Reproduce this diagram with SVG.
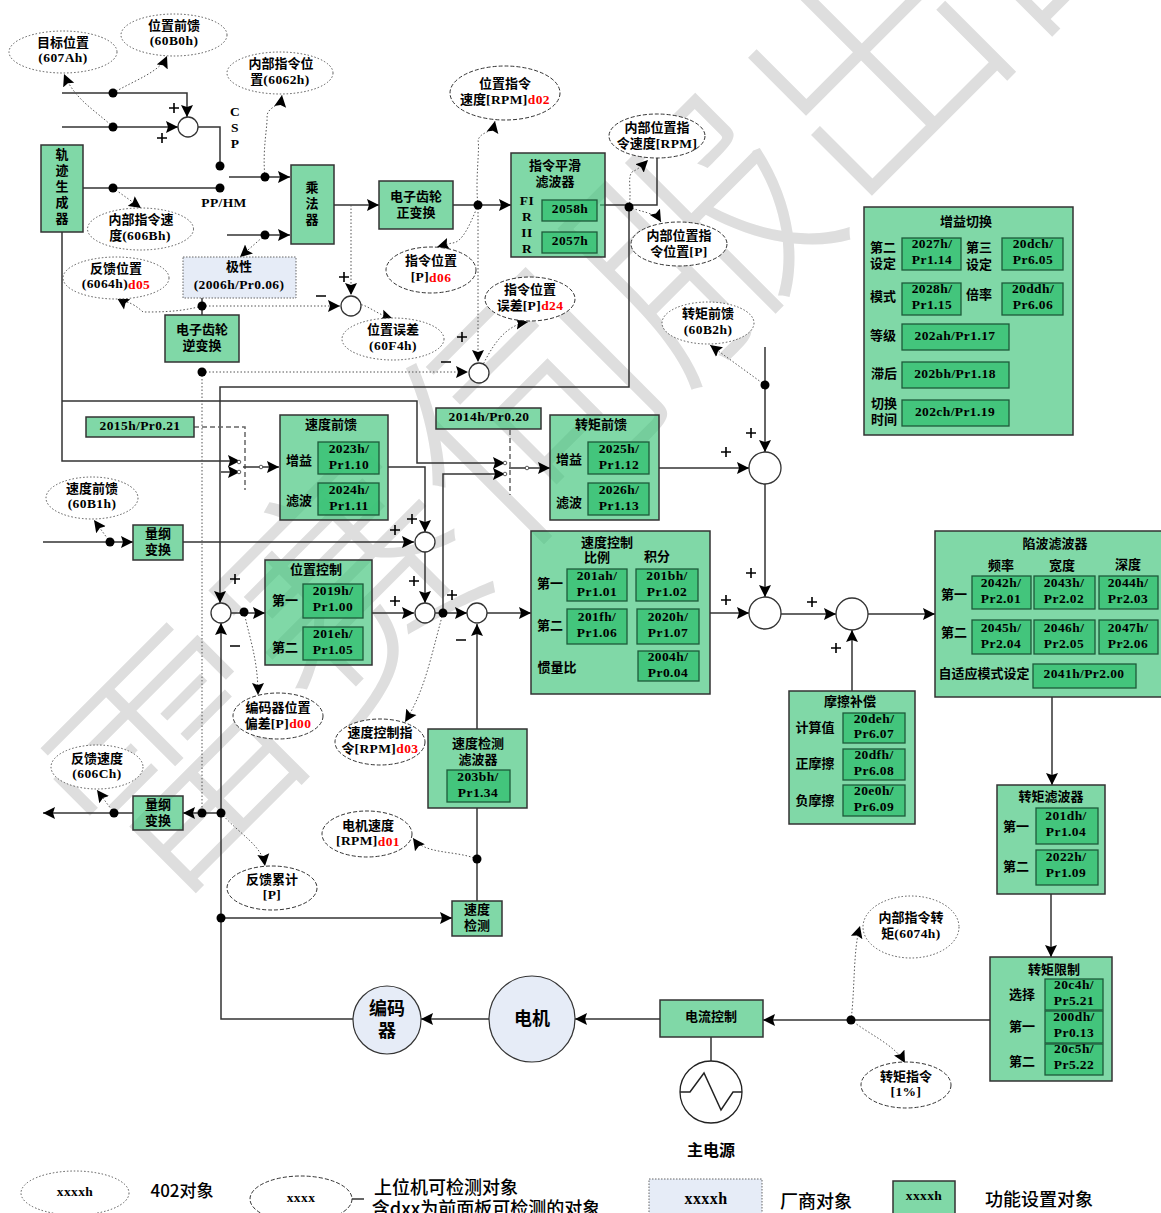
<svg xmlns="http://www.w3.org/2000/svg" width="1161" height="1213" viewBox="0 0 1161 1213">
<style>
text{font-family:"Noto Sans CJK SC","Liberation Sans",sans-serif;font-size:13px;font-weight:700;text-anchor:middle;dominant-baseline:central;fill:#000}
text:not(.wm){transform:translateY(-1.5px)}
text.m,tspan.m{font-family:"Liberation Serif","Noto Sans CJK SC",serif;font-size:13.5px;letter-spacing:.4px}
tspan.r{fill:#f00}
text.b{font-size:18px;font-weight:500}
.g{fill:#3cc378;fill-opacity:.65;stroke:#333;stroke-width:1.5}
.i{fill:#3cc378;fill-opacity:.9;stroke:#1d5a3a;stroke-width:1.3}
.v{fill:#e6ecf7;stroke:#666;stroke-width:1;stroke-dasharray:1.5 1.5}
.e1{fill:#fff;stroke:#555;stroke-width:1;stroke-dasharray:1.5 2}
.e2{fill:#fff;stroke:#333;stroke-width:1;stroke-dasharray:4 2}
.s{fill:#fff;stroke:#333;stroke-width:1.3}
.l{fill:none;stroke:#333;stroke-width:1.5}
.a{fill:none;stroke:#333;stroke-width:1.5;marker-end:url(#ar)}
.d{fill:none;stroke:#555;stroke-width:1;stroke-dasharray:1.5 2}
.da{fill:none;stroke:#555;stroke-width:1;stroke-dasharray:1.5 2;marker-end:url(#ar)}
.sw{fill:none;stroke:#666;stroke-width:1.5;stroke-dasharray:5 3}
.p{fill:none;stroke:#000;stroke-width:1.6}
circle.j{fill:#000;stroke:none}
circle.o{fill:#fff;stroke:#333;stroke-width:.8}
.wm{font-size:246px;font-weight:300;fill:#dedede}
</style>
<defs>
<marker id="ar" markerUnits="userSpaceOnUse" markerWidth="13" markerHeight="13" refX="12" refY="6.5" orient="auto"><path d="M0,0.5L12,6.5L0,12.5L2,6.5z" fill="#000"/></marker>
</defs>
<rect width="1161" height="1213" fill="#fff"/>
<text class="wm" id="watermark" transform="translate(600,312) rotate(-45)">雷赛伺服出品</text>

<g id="connectors">
<path class="a" d="M62,93H187V117"/>
<path class="a" d="M62,127H178"/>
<path class="l" d="M198,127H220V166"/>
<path class="l" d="M83,188H220"/>
<path class="a" d="M229,177H290"/>
<path class="a" d="M227,235H290"/>
<path class="a" d="M334,205H379"/>
<path class="a" d="M453,205H511"/>
<path class="l" d="M600,205H657V158"/>
<path class="a" d="M629,207V387H220V603"/>
<path class="a" d="M62,232V461H240"/>
<path class="a" d="M62,401H417V463H505"/>
<path class="a" d="M221,472H240"/>
<path class="a" d="M443,613V474H505"/>
<path class="sw" d="M194,427H245V490"/>
<path class="sw" d="M510,430V495"/>
<path class="a" d="M243,467H279"/>
<path class="a" d="M509,468H550"/>
<path class="a" d="M388,467H425V532"/>
<path class="a" d="M183,542H414"/>
<path class="a" d="M425,552V603"/>
<path class="a" d="M372,613H414"/>
<path class="a" d="M435,613H467"/>
<path class="a" d="M487,613H531"/>
<path class="a" d="M477,729V624"/>
<path class="a" d="M659,468H749"/>
<path class="a" d="M765,347V452"/>
<path class="a" d="M765,484V597"/>
<path class="a" d="M710,613H749"/>
<path class="a" d="M781,614H836"/>
<path class="a" d="M852,691V630"/>
<path class="a" d="M868,614H935"/>
<path class="a" d="M1052,697V785"/>
<path class="a" d="M1051,894V957"/>
<path class="a" d="M990,1020H763"/>
<path class="a" d="M660,1019H575"/>
<path class="a" d="M489,1019H421"/>
<path class="a" d="M353,1019H221V623"/>
<path class="a" d="M221,918H452"/>
<path class="a" d="M221,813H183"/>
<path class="a" d="M133,813H43"/>
<path class="l" d="M477,808V901"/>
<path class="a" d="M231,613H265"/>
<path class="a" d="M43,542H133"/>
<path class="l" d="M202,298V315"/>
<path class="l" d="M711,1037V1061"/>
<path class="l" d="M351,1199H364"/>
<path class="da" d="M351,205V295"/>
<path class="da" d="M202,306H340"/>
<path class="da" d="M202,372H468"/>
<path class="d" d="M202,372V813"/>
<path class="da" d="M478,205V362"/>
<path class="da" d="M113,127C95,110 75,100 64,74"/>
<path class="da" d="M113,93C135,80 160,72 167,56"/>
<path class="da" d="M265,177C262,150 268,125 267,115C270,105 280,108 282,95"/>
<path class="da" d="M113,188L141,208"/>
<path class="da" d="M265,235L240,257"/>
<path class="da" d="M202,306C180,312 160,312 143,312C130,300 125,303 117,298"/>
<path class="da" d="M351,306C365,300 370,312 393,319"/>
<path class="da" d="M478,205C475,180 480,150 478,140C482,130 492,135 495,121"/>
<path class="da" d="M478,205C470,225 462,243 452,243L437,247"/>
<path class="da" d="M629,207C632,190 627,178 632,172C636,170 640,168 648,160"/>
<path class="da" d="M629,207C640,212 655,212 661,222"/>
<path class="da" d="M479,373C492,345 505,325 528,322"/>
<path class="da" d="M765,385L710,345"/>
<path class="da" d="M110,542L94,520"/>
<path class="da" d="M244,612C250,640 258,660 258,695"/>
<path class="da" d="M443,613C430,660 425,690 405,722"/>
<path class="da" d="M114,813L97,790"/>
<path class="da" d="M221,813C240,835 262,845 265,866"/>
<path class="da" d="M477,859C455,850 425,855 413,838"/>
<path class="da" d="M851,1020C855,990 853,950 860,926"/>
<path class="da" d="M851,1020C870,1035 895,1045 905,1063"/>
</g>

<g id="junctions">
<circle class="j" cx="113" cy="93" r="4.5"/><circle class="j" cx="113" cy="127" r="4.5"/><circle class="j" cx="220" cy="166" r="4.5"/><circle class="j" cx="220" cy="188" r="4.5"/><circle class="j" cx="113" cy="188" r="4.5"/><circle class="j" cx="265" cy="177" r="4.5"/><circle class="j" cx="265" cy="235" r="4.5"/><circle class="j" cx="478" cy="205" r="4.5"/><circle class="j" cx="629" cy="207" r="4.5"/><circle class="j" cx="202" cy="306" r="4.5"/><circle class="j" cx="202" cy="372" r="4.5"/><circle class="j" cx="765" cy="385" r="4.5"/><circle class="j" cx="110" cy="542" r="4.5"/><circle class="j" cx="244" cy="612" r="4.5"/><circle class="j" cx="443" cy="613" r="4.5"/><circle class="j" cx="221" cy="813" r="4.5"/><circle class="j" cx="202" cy="813" r="4.5"/><circle class="j" cx="114" cy="813" r="4.5"/><circle class="j" cx="221" cy="918" r="4.5"/><circle class="j" cx="477" cy="859" r="4.5"/><circle class="j" cx="851" cy="1020" r="4.5"/>
<circle class="o" cx="239" cy="462" r="1.8"/><circle class="o" cx="239" cy="472" r="1.8"/><circle class="o" cx="261" cy="467" r="1.8"/><circle class="o" cx="505" cy="463" r="1.8"/><circle class="o" cx="505" cy="474" r="1.8"/><circle class="o" cx="527" cy="468" r="1.8"/>
</g>

<g id="sums">
<circle class="s" cx="188" cy="127" r="10"/><circle class="s" cx="351" cy="306" r="10"/><circle class="s" cx="479" cy="373" r="10"/><circle class="s" cx="425" cy="542" r="10"/><circle class="s" cx="425" cy="613" r="10"/><circle class="s" cx="477" cy="613" r="10"/><circle class="s" cx="221" cy="613" r="10"/><circle class="s" cx="765" cy="468" r="16"/><circle class="s" cx="765" cy="613" r="16"/><circle class="s" cx="852" cy="614" r="16"/>
</g>

<g id="signs">
<path class="p" d="M169,108H179M174,103V113M157,138H167M162,133V143M339,277H349M344,272V282M457,337H467M462,332V342M230,579H240M235,574V584M390,530H400M395,525V535M407,519H417M412,514V524M409,581H419M414,576V586M390,601H400M395,596V606M447,595H457M452,590V600M721,452H731M726,447V457M746,433H756M751,428V438M746,573H756M751,568V578M721,600H731M726,595V605M807,602H817M812,597V607M831,648H841M836,643V653M316,296H326M441,362H451M230,646H240M456,640H466"/>
</g>

<text class="m" x="235" y="113">C</text><text class="m" x="235" y="129">S</text><text class="m" x="235" y="145">P</text>
<text class="m" x="224" y="204">PP/HM</text>

<g id="e-607A"><ellipse class="e1" cx="63" cy="52" rx="54" ry="21"/><text x="63" y="43">目标位置</text><text class="m" x="63" y="59">(607Ah)</text></g>
<g id="e-60B0"><ellipse class="e1" cx="174" cy="35" rx="53" ry="21"/><text x="174" y="26">位置前馈</text><text class="m" x="174" y="42">(60B0h)</text></g>
<g id="e-6062"><ellipse class="e1" cx="280" cy="73" rx="53" ry="21"/><text x="281" y="64">内部指令位</text><text x="280" y="80">置<tspan class="m">(6062h)</tspan></text></g>
<g id="e-606B"><ellipse class="e1" cx="140.500" cy="229" rx="53" ry="21"/><text x="141" y="220">内部指令速</text><text x="140" y="236">度<tspan class="m">(606Bh)</tspan></text></g>
<g id="e-6064"><ellipse class="e1" cx="116" cy="278" rx="53" ry="21"/><text x="116" y="269">反馈位置</text><text class="m" x="116" y="285">(6064h)<tspan class="r">d05</tspan></text></g>
<g id="e-60F4"><ellipse class="e1" cx="393" cy="339" rx="51" ry="21"/><text x="393" y="330">位置误差</text><text class="m" x="393" y="347">(60F4h)</text></g>
<g id="e-d02"><ellipse class="e2" cx="505" cy="93" rx="55" ry="27"/><text x="505" y="84">位置指令</text><text x="505" y="100">速度<tspan class="m">[RPM]</tspan><tspan class="m r">d02</tspan></text></g>
<g id="e-ivel"><ellipse class="e2" cx="657" cy="136" rx="48" ry="22"/><text x="657" y="128">内部位置指</text><text x="657" y="144">令速度<tspan class="m">[RPM]</tspan></text></g>
<g id="e-ipos"><ellipse class="e2" cx="679" cy="244" rx="48" ry="22"/><text x="679" y="236">内部位置指</text><text x="679" y="252">令位置<tspan class="m">[P]</tspan></text></g>
<g id="e-d06"><ellipse class="e2" cx="431" cy="270" rx="45" ry="23"/><text x="431" y="261">指令位置</text><text class="m" x="431" y="278">[P]<tspan class="r">d06</tspan></text></g>
<g id="e-d24"><ellipse class="e2" cx="530" cy="299" rx="45" ry="22"/><text x="530" y="290">指令位置</text><text x="530" y="306">误差<tspan class="m">[P]</tspan><tspan class="m r">d24</tspan></text></g>
<g id="e-60B2"><ellipse class="e1" cx="708" cy="323" rx="46" ry="21"/><text x="708" y="314">转矩前馈</text><text class="m" x="708" y="331">(60B2h)</text></g>
<g id="e-60B1"><ellipse class="e1" cx="92" cy="498" rx="46" ry="21"/><text x="92" y="489">速度前馈</text><text class="m" x="92" y="505">(60B1h)</text></g>
<g id="e-d00"><ellipse class="e2" cx="278" cy="716" rx="45" ry="23"/><text x="278" y="708">编码器位置</text><text x="278" y="724">偏差<tspan class="m">[P]</tspan><tspan class="m r">d00</tspan></text></g>
<g id="e-d03"><ellipse class="e2" cx="380" cy="742" rx="45" ry="23"/><text x="380" y="733">速度控制指</text><text x="380" y="749">令<tspan class="m">[RPM]</tspan><tspan class="m r">d03</tspan></text></g>
<g id="e-606C"><ellipse class="e1" cx="97" cy="767" rx="46" ry="22"/><text x="97" y="759">反馈速度</text><text class="m" x="97" y="775">(606Ch)</text></g>
<g id="e-d01"><ellipse class="e2" cx="367" cy="834" rx="45" ry="23"/><text x="368" y="826">电机速度</text><text class="m" x="368" y="842">[RPM]<tspan class="r">d01</tspan></text></g>
<g id="e-fbsum"><ellipse class="e2" cx="272" cy="888" rx="45" ry="22"/><text x="272" y="880">反馈累计</text><text class="m" x="272" y="896">[P]</text></g>
<g id="e-6074"><ellipse class="e1" cx="911" cy="927" rx="48" ry="31"/><text x="911" y="918">内部指令转</text><text x="911" y="934">矩<tspan class="m">(6074h)</tspan></text></g>
<g id="e-1pct"><ellipse class="e2" cx="906" cy="1085" rx="45" ry="23"/><text x="906" y="1077">转矩指令</text><text class="m" x="906" y="1093">[1%]</text></g>

<g id="n-traj"><rect class="g" x="41" y="145" width="42" height="87"/><text x="62" y="155">轨</text><text x="62" y="171">迹</text><text x="62" y="187">生</text><text x="62" y="203">成</text><text x="62" y="219">器</text></g>
<g id="n-mul"><rect class="g" x="291" y="165" width="43" height="79"/><text x="312" y="188">乘</text><text x="312" y="204">法</text><text x="312" y="220">器</text></g>
<g id="n-gear"><rect class="g" x="379" y="181" width="74" height="48"/><text x="416" y="197">电子齿轮</text><text x="416" y="213">正变换</text></g>
<g id="n-pol"><rect class="v" x="183" y="257" width="113" height="41"/><text x="239" y="267">极性</text><text class="m" x="239" y="286">(2006h/Pr0.06)</text></g>
<g id="n-igear"><rect class="g" x="165" y="315" width="74" height="47"/><text x="202" y="330">电子齿轮</text><text x="202" y="346">逆变换</text></g>
<g id="n-smooth"><rect class="g" x="511" y="153" width="94" height="104"/><text x="555" y="166">指令平滑</text><text x="555" y="182">滤波器</text><text class="m" x="527" y="202">FI</text><text class="m" x="527" y="218">R</text><text class="m" x="527" y="234">II</text><text class="m" x="527" y="250">R</text><rect class="i" x="542" y="200" width="55" height="21"/><text class="m" x="570" y="210">2058h</text><rect class="i" x="542" y="232" width="55" height="21"/><text class="m" x="570" y="242">2057h</text></g>
<g id="n-2015"><rect class="g" x="86" y="417" width="108" height="20"/><text class="m" x="140" y="427">2015h/Pr0.21</text></g>
<g id="n-2014"><rect class="g" x="436" y="408" width="105" height="21"/><text class="m" x="489" y="418">2014h/Pr0.20</text></g>
<g id="n-vff"><rect class="g" x="280" y="415" width="108" height="105"/><text x="331" y="425">速度前馈</text><text x="299" y="461">增益</text><text x="299" y="501">滤波</text><rect class="i" x="318" y="442" width="61" height="32"/><text class="m" x="349" y="450">2023h/</text><text class="m" x="349" y="466">Pr1.10</text><rect class="i" x="318" y="483" width="61" height="32"/><text class="m" x="349" y="491">2024h/</text><text class="m" x="349" y="507">Pr1.11</text></g>
<g id="n-tff"><rect class="g" x="550" y="415" width="109" height="105"/><text x="601" y="425">转矩前馈</text><text x="569" y="460">增益</text><text x="569" y="503">滤波</text><rect class="i" x="588" y="442" width="61" height="32"/><text class="m" x="619" y="450">2025h/</text><text class="m" x="619" y="466">Pr1.12</text><rect class="i" x="588" y="483" width="61" height="32"/><text class="m" x="619" y="491">2026h/</text><text class="m" x="619" y="507">Pr1.13</text></g>
<g id="n-dim1"><rect class="g" x="133" y="525" width="50" height="35"/><text x="158" y="534">量纲</text><text x="158" y="550">变换</text></g>
<g id="n-pos"><rect class="g" x="265" y="560" width="107" height="105"/><text x="316" y="570">位置控制</text><text x="285" y="601">第一</text><text x="285" y="648">第二</text><rect class="i" x="303" y="584" width="60" height="34"/><text class="m" x="333" y="592">2019h/</text><text class="m" x="333" y="608">Pr1.00</text><rect class="i" x="303" y="627" width="60" height="33"/><text class="m" x="333" y="635">201eh/</text><text class="m" x="333" y="651">Pr1.05</text></g>
<g id="n-vel"><rect class="g" x="531" y="531" width="179" height="163"/><text x="607" y="543">速度控制</text><text x="597" y="558">比例</text><text x="657" y="557">积分</text><text x="550" y="584">第一</text><text x="550" y="626">第二</text><text x="557" y="668">惯量比</text><rect class="i" x="567" y="569" width="60" height="32"/><text class="m" x="597" y="577">201ah/</text><text class="m" x="597" y="593">Pr1.01</text><rect class="i" x="636" y="569" width="62" height="32"/><text class="m" x="667" y="577">201bh/</text><text class="m" x="667" y="593">Pr1.02</text><rect class="i" x="567" y="609" width="60" height="35"/><text class="m" x="597" y="618">201fh/</text><text class="m" x="597" y="634">Pr1.06</text><rect class="i" x="637" y="609" width="62" height="35"/><text class="m" x="668" y="618">2020h/</text><text class="m" x="668" y="634">Pr1.07</text><rect class="i" x="638" y="651" width="61" height="30"/><text class="m" x="668" y="658">2004h/</text><text class="m" x="668" y="674">Pr0.04</text></g>
<g id="n-velfilt"><rect class="g" x="428" y="729" width="99" height="79"/><text x="478" y="744">速度检测</text><text x="478" y="760">滤波器</text><rect class="i" x="447" y="770" width="63" height="32"/><text class="m" x="478" y="778">203bh/</text><text class="m" x="478" y="794">Pr1.34</text></g>
<g id="n-dim2"><rect class="g" x="133" y="796" width="50" height="34"/><text x="158" y="805">量纲</text><text x="158" y="821">变换</text></g>
<g id="n-veldet"><rect class="g" x="452" y="901" width="50" height="35"/><text x="477" y="910">速度</text><text x="477" y="926">检测</text></g>
<g id="n-enc"><circle cx="387" cy="1020" r="34" fill="#e6ecf7" stroke="#333" stroke-width="1.2"/><text x="387" y="1008" style="font-size:18px">编码</text><text x="387" y="1030" style="font-size:18px">器</text></g>
<g id="n-motor"><circle cx="532" cy="1019" r="43" fill="#e6ecf7" stroke="#333" stroke-width="1.2"/><text x="532" y="1018" style="font-size:18px">电机</text></g>
<g id="n-cur"><rect class="g" x="660" y="1000" width="103" height="37"/><text x="711" y="1017">电流控制</text></g>
<g id="n-mains"><ellipse cx="711" cy="1092" rx="31" ry="31" fill="#fff" stroke="#222" stroke-width="1.3"/><path class="l" d="M680,1092H690L704,1073L721,1110L733,1092H742" style="stroke:#222"/><text x="711" y="1150" style="font-size:16px">主电源</text></g>
<g id="n-gain"><rect class="g" x="864" y="207" width="209" height="228"/><text x="966" y="222">增益切换</text><text x="883" y="248">第二</text><text x="883" y="264">设定</text><text x="979" y="248">第三</text><text x="979" y="265">设定</text><text x="883" y="297">模式</text><text x="979" y="295">倍率</text><text x="883" y="336">等级</text><text x="884" y="374">滞后</text><text x="884" y="404">切换</text><text x="884" y="420">时间</text>
<rect class="i" x="902" y="238" width="59" height="32"/><text class="m" x="932" y="245">2027h/</text><text class="m" x="932" y="261">Pr1.14</text><rect class="i" x="1002" y="238" width="61" height="32"/><text class="m" x="1033" y="245">20dch/</text><text class="m" x="1033" y="261">Pr6.05</text><rect class="i" x="902" y="283" width="59" height="32"/><text class="m" x="932" y="290">2028h/</text><text class="m" x="932" y="306">Pr1.15</text><rect class="i" x="1002" y="283" width="61" height="32"/><text class="m" x="1033" y="290">20ddh/</text><text class="m" x="1033" y="306">Pr6.06</text><rect class="i" x="902" y="324" width="107" height="26"/><text class="m" x="955" y="337">202ah/Pr1.17</text><rect class="i" x="902" y="362" width="107" height="26"/><text class="m" x="955" y="375">202bh/Pr1.18</text><rect class="i" x="902" y="400" width="107" height="26"/><text class="m" x="955" y="413">202ch/Pr1.19</text></g>
<g id="n-notch"><rect class="g" x="935" y="531" width="227" height="166"/><text x="1055" y="544">陷波滤波器</text><text x="1001" y="566">频率</text><text x="1062" y="566">宽度</text><text x="1128" y="565">深度</text><text x="954" y="595">第一</text><text x="954" y="633">第二</text><text x="984" y="674">自适应模式设定</text>
<rect class="i" x="972" y="576" width="59" height="33"/><text class="m" x="1001" y="584">2042h/</text><text class="m" x="1001" y="600">Pr2.01</text><rect class="i" x="1034" y="576" width="61" height="33"/><text class="m" x="1064" y="584">2043h/</text><text class="m" x="1064" y="600">Pr2.02</text><rect class="i" x="1099" y="576" width="59" height="33"/><text class="m" x="1128" y="584">2044h/</text><text class="m" x="1128" y="600">Pr2.03</text><rect class="i" x="972" y="620" width="59" height="34"/><text class="m" x="1001" y="629">2045h/</text><text class="m" x="1001" y="645">Pr2.04</text><rect class="i" x="1034" y="620" width="61" height="34"/><text class="m" x="1064" y="629">2046h/</text><text class="m" x="1064" y="645">Pr2.05</text><rect class="i" x="1099" y="620" width="59" height="34"/><text class="m" x="1128" y="629">2047h/</text><text class="m" x="1128" y="645">Pr2.06</text><rect class="i" x="1033" y="664" width="103" height="24"/><text class="m" x="1084" y="675">2041h/Pr2.00</text></g>
<g id="n-fric"><rect class="g" x="789" y="691" width="126" height="133"/><text x="850" y="702">摩擦补偿</text><text x="815" y="728">计算值</text><text x="815" y="764">正摩擦</text><text x="815" y="801">负摩擦</text><rect class="i" x="843" y="713" width="62" height="30"/><text class="m" x="874" y="720">20deh/</text><text class="m" x="874" y="735">Pr6.07</text><rect class="i" x="843" y="749" width="62" height="31"/><text class="m" x="874" y="756">20dfh/</text><text class="m" x="874" y="772">Pr6.08</text><rect class="i" x="843" y="785" width="62" height="31"/><text class="m" x="874" y="792">20e0h/</text><text class="m" x="874" y="808">Pr6.09</text></g>
<g id="n-tfilt"><rect class="g" x="997" y="785" width="108" height="109"/><text x="1051" y="797">转矩滤波器</text><text x="1016" y="827">第一</text><text x="1016" y="867">第二</text><rect class="i" x="1036" y="808" width="62" height="36"/><text class="m" x="1066" y="817">201dh/</text><text class="m" x="1066" y="833">Pr1.04</text><rect class="i" x="1036" y="850" width="62" height="35"/><text class="m" x="1066" y="858">2022h/</text><text class="m" x="1066" y="874">Pr1.09</text></g>
<g id="n-tlim"><rect class="g" x="990" y="957" width="122" height="124"/><text x="1054" y="970">转矩限制</text><text x="1022" y="995">选择</text><text x="1022" y="1027">第一</text><text x="1022" y="1062">第二</text><rect class="i" x="1045" y="979" width="58" height="31"/><text class="m" x="1074" y="986">20c4h/</text><text class="m" x="1074" y="1002">Pr5.21</text><rect class="i" x="1045" y="1011" width="58" height="32"/><text class="m" x="1074" y="1018">200dh/</text><text class="m" x="1074" y="1034">Pr0.13</text><rect class="i" x="1045" y="1044" width="58" height="31"/><text class="m" x="1074" y="1050">20c5h/</text><text class="m" x="1074" y="1066">Pr5.22</text></g>

<g id="legend"><ellipse class="e1" cx="75" cy="1193" rx="54" ry="22"/><text class="m" x="75" y="1193">xxxxh</text><text class="b" x="182" y="1191" style="font-size:17px">402对象</text><ellipse class="e2" cx="301" cy="1199" rx="51" ry="23"/><text class="m" x="301" y="1199">xxxx</text><text class="b" x="446" y="1187">上位机可检测对象</text><text class="b" x="486" y="1208">含dxx为前面板可检测的对象</text><rect class="v" x="649" y="1179" width="113" height="40"/><text class="m" x="706" y="1200" style="font-size:16px">xxxxh</text><text class="b" x="816" y="1201">厂商对象</text><rect class="g" x="893" y="1181" width="62" height="38"/><text class="m" x="924" y="1197">xxxxh</text><text class="b" x="1039" y="1199">功能设置对象</text></g>
</svg>
